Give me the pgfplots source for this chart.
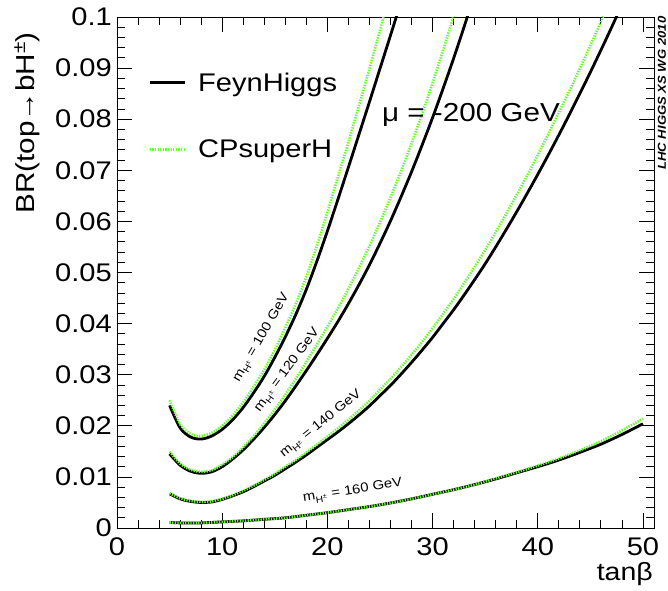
\documentclass[border=0pt]{standalone}
\usepackage{fontspec}
\setmainfont{Liberation Sans}[FakeStretch=1.14]
\usepackage{pgfplots}
\pgfplotsset{compat=1.18}
\definecolor{cpgreen}{RGB}{100,248,45}

\begin{document}
\begin{tikzpicture}
\begin{axis}[
  at={(0pt,0pt)}, anchor=south west,
  scale only axis, width=537pt, height=511pt,
  xmin=0, xmax=51.05, ymin=0, ymax=0.1,
  xtick={0,10,20,30,40,50}, xticklabels={0,10,20,30,40,50},
  ytick={0,0.01,0.02,0.03,0.04,0.05,0.06,0.07,0.08,0.09,0.1},
  yticklabels={0,0.01,0.02,0.03,0.04,0.05,0.06,0.07,0.08,0.09,0.1},
  minor x tick num=4, minor y tick num=4,
  tick align=inside, tick pos=both,
  major tick length=15pt, minor tick length=8pt,
  every tick/.style={black, line width=0.8pt},
  axis line style={line width=0.8pt},
  /pgf/number format/assume math mode=true,
  ticklabel style={font=\fontsize{25.5}{26}\selectfont, inner sep=0pt},
  yticklabel style={xshift=-5pt},
  xticklabel style={yshift=-9pt},
  clip mode=individual,
  legend style={draw=none, fill=none, at={(0.058,0.895)}, anchor=north west,
    font=\fontsize{25.5}{26}\selectfont, row sep=43pt, column sep=10pt, inner sep=0pt},
  legend cell align=left,
  legend image code/.code={\draw[#1, line cap=butt] (0pt,0pt) -- (35pt,0pt);},
  fh/.style={black, line width=2.8pt, smooth, tension=0.5},
  cp/.style={cpgreen, line width=2.6pt, dash pattern=on 1.3pt off 1.3pt, smooth, tension=0.5},
]
% m_H+ = 100 GeV
\addplot[fh] coordinates {(5,0.0240)(6,0.0196)(7,0.0178)(8,0.0174)(9,0.0180)(10,0.0193)(11,0.0212)(12,0.0236)(13,0.0265)(14,0.0297)(15,0.0334)(16,0.0374)(17,0.0418)(18,0.0467)(19,0.0522)(20,0.0581)(21,0.0643)(22,0.0706)(23,0.0770)(24,0.0834)(25,0.0899)(26,0.0964)(27,0.1030)};
\addlegendentry{FeynHiggs}
\addplot[cp] coordinates {(5,0.0250)(6,0.0203)(7,0.0184)(8,0.0180)(9,0.0186)(10,0.0200)(11,0.0220)(12,0.0246)(13,0.0277)(14,0.0310)(15,0.0349)(16,0.0392)(17,0.0439)(18,0.0492)(19,0.0552)(20,0.0618)(21,0.0687)(22,0.0755)(23,0.0827)(24,0.0899)(25,0.0974)(26,0.1052)};
\addlegendentry{CPsuperH}
% m_H+ = 120 GeV
\addplot[fh, forget plot] coordinates {(5,0.0145)(6,0.0123)(7,0.0111)(8,0.0107)(9,0.0110)(10,0.0120)(11,0.0135)(12,0.0153)(13,0.0174)(14,0.0197)(15,0.0222)(16,0.0249)(17,0.0278)(18,0.0308)(19,0.0339)(20,0.0371)(21,0.0404)(22,0.0439)(23,0.0476)(24,0.0515)(25,0.0557)(26,0.0601)(27,0.0648)(28,0.0697)(29,0.0749)(30,0.0803)(31,0.0860)(32,0.0919)(33,0.0981)(34,0.1045)};
\addplot[cp, forget plot] coordinates {(5,0.0149)(6,0.0126)(7,0.0114)(8,0.0110)(9,0.0113)(10,0.0124)(11,0.0139)(12,0.0158)(13,0.0180)(14,0.0205)(15,0.0232)(16,0.0261)(17,0.0292)(18,0.0325)(19,0.0359)(20,0.0394)(21,0.0430)(22,0.0468)(23,0.0509)(24,0.0552)(25,0.0598)(26,0.0647)(27,0.0698)(28,0.0753)(29,0.0810)(30,0.0871)(31,0.0935)(32,0.1002)(33,0.1072)};
% m_H+ = 140 GeV
\addplot[fh, forget plot] coordinates {(5,0.0067)(6,0.0057)(7,0.0052)(8,0.0050)(9,0.0051)(10,0.0056)(11,0.0063)(12,0.0071)(13,0.0081)(14,0.0092)(15,0.0103)(16,0.0116)(17,0.0129)(18,0.0143)(19,0.0158)(20,0.0173)(21,0.0188)(22,0.0204)(23,0.0221)(24,0.0239)(25,0.0259)(26,0.0279)(27,0.0301)(28,0.0324)(29,0.0348)(30,0.0373)(31,0.0400)(32,0.0427)(33,0.0456)(34,0.0486)(35,0.0517)(36,0.0550)(37,0.0584)(38,0.0619)(39,0.0655)(40,0.0692)(41,0.0730)(42,0.0769)(43,0.0809)(44,0.0850)(45,0.0892)(46,0.0935)(47,0.0979)(48,0.1024)};
\addplot[cp, forget plot] coordinates {(5,0.0068)(6,0.0058)(7,0.0053)(8,0.0051)(9,0.0052)(10,0.0057)(11,0.0064)(12,0.0073)(13,0.0083)(14,0.0094)(15,0.0106)(16,0.0120)(17,0.0133)(18,0.0148)(19,0.0163)(20,0.0179)(21,0.0195)(22,0.0212)(23,0.0230)(24,0.0249)(25,0.0271)(26,0.0292)(27,0.0315)(28,0.0339)(29,0.0364)(30,0.0391)(31,0.0419)(32,0.0448)(33,0.0479)(34,0.0511)(35,0.0544)(36,0.0579)(37,0.0615)(38,0.0652)(39,0.0690)(40,0.0730)(41,0.0771)(42,0.0813)(43,0.0855)(44,0.0899)(45,0.0944)(46,0.0991)(47,0.1038)};
% m_H+ = 160 GeV
\addplot[fh, forget plot] coordinates {(5,0.0011)(6,0.0010)(8,0.0010)(10,0.0012)(12,0.0014)(14,0.0017)(16,0.0020)(18,0.0025)(20,0.0030)(22,0.0036)(24,0.0042)(26,0.0049)(28,0.0057)(30,0.0066)(32,0.0075)(34,0.0085)(36,0.0096)(38,0.0108)(40,0.0120)(42,0.0133)(44,0.0148)(46,0.0164)(48,0.0183)(50,0.0204)};
\addplot[cp, forget plot] coordinates {(5,0.0011)(6,0.0010)(8,0.0010)(10,0.0012)(12,0.0014)(14,0.0017)(16,0.0020)(18,0.0025)(20,0.0030)(22,0.0036)(24,0.0042)(26,0.0049)(28,0.0057)(30,0.0066)(32,0.0075)(34,0.0085)(36,0.0097)(38,0.0109)(40,0.0122)(42,0.0136)(44,0.0152)(46,0.0170)(48,0.0191)(50,0.0214)};

% curve labels
\node[font=\fontsize{13}{13}\selectfont, rotate=60] at (axis cs:13.75,0.0372) {m\textsubscript{H\textsuperscript{±}} = 100 GeV};
\node[font=\fontsize{13}{13}\selectfont, rotate=53.5] at (axis cs:16.2,0.0309) {m\textsubscript{H\textsuperscript{±}} = 120 GeV};
\node[font=\fontsize{13}{13}\selectfont, rotate=39] at (axis cs:19.4,0.0203) {m\textsubscript{H\textsuperscript{±}} = 140 GeV};
\node[font=\fontsize{13}{13}\selectfont, rotate=9] at (axis cs:22.4,0.0072) {m\textsubscript{H\textsuperscript{±}} = 160 GeV};
\node[font=\fontsize{26}{26}\selectfont] at (axis cs:33.65,0.0808) {μ = -200 GeV};

% axis titles and group tag
\node[font=\fontsize{26}{26}\selectfont, rotate=90, anchor=east, inner sep=0pt] at ([xshift=-90pt,yshift=-15pt]rel axis cs:0,1) {BR(top→bH\textsuperscript{±})};
\node[font=\fontsize{25}{26}\selectfont, anchor=base east, inner sep=0pt] at ([xshift=-1pt,yshift=-52pt]rel axis cs:1,0) {tanβ};
\node[font=\fontsize{11.5}{12}\selectfont\bfseries\itshape, rotate=90, inner sep=0pt] at ([xshift=8pt]rel axis cs:1,0.851) {LHC HIGGS XS WG 2010};
\end{axis}
\useasboundingbox (-117pt,-62pt) rectangle (551pt,528pt);
\end{tikzpicture}
\end{document}
